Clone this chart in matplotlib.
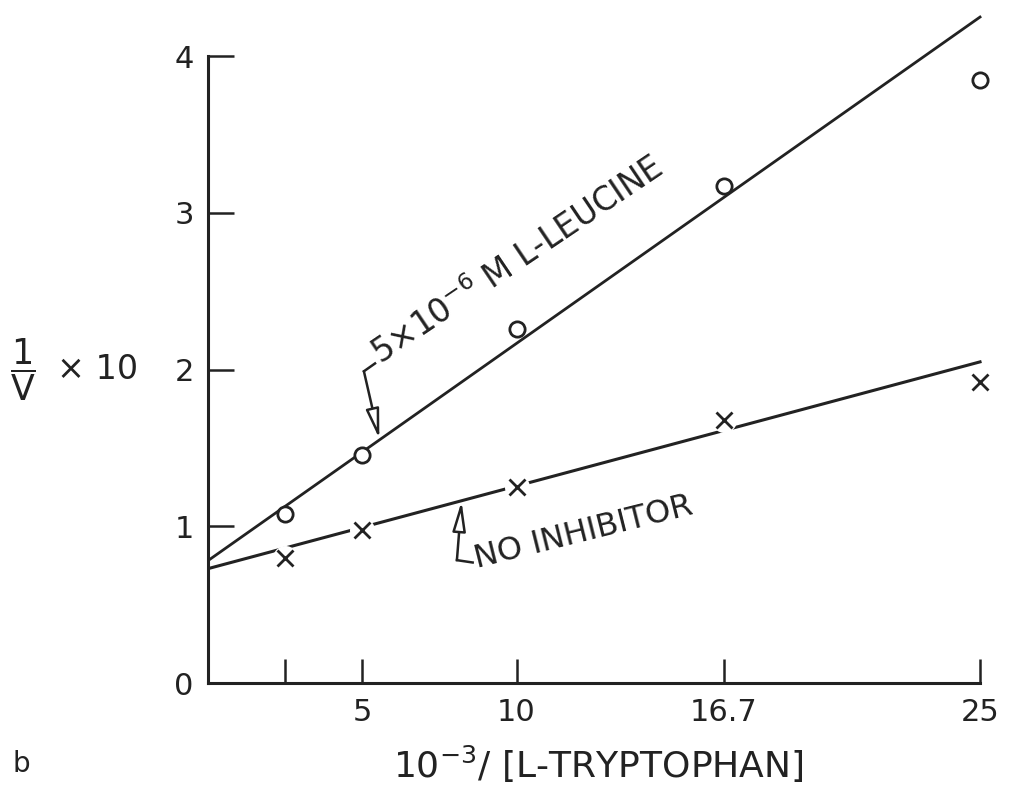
# Lineweaver-Burk plot: L-tryptophan with and without L-leucine inhibitor
import matplotlib.pyplot as plt

plt.rcParams['font.family'] = ['DejaVu Sans']
plt.rcParams['mathtext.fontset'] = 'dejavusans'

# data
inv_s = [2.5, 5, 10, 16.7, 25]              # 10^-3 / [L-tryptophan]
leucine = [1.08, 1.455, 2.26, 3.17, 3.85]   # 1/v x 10, 5x10^-6 M L-leucine
no_inhib = [0.80, 0.98, 1.25, 1.68, 1.92]   # 1/v x 10, no inhibitor

# hand-drawn fitted lines (end points)
fit_x = [0, 25]
fit_leucine = [0.78, 4.25]
fit_none = [0.73, 2.05]

x_ticks = [2.5, 5, 10, 16.7, 25]
x_ticklabels = ['', '5', '10', '16.7', '25']
y_ticks = [0, 1, 2, 3, 4]

ink = '#222222'
arrow_style = '-|>,head_length=1.8,head_width=0.4'

fig = plt.figure(figsize=(10.1, 8), dpi=100)
ax = fig.add_axes([0.2055, 0.146, 0.774, 0.8425])

ax.plot(fit_x, fit_leucine, color=ink, lw=2.0, zorder=2)
ax.plot(fit_x, fit_none, color=ink, lw=2.2, zorder=2)

# open circles (white filled so the line stops at the rim)
ax.plot(inv_s, leucine, 'o', ms=11, mfc='white', mec=ink, mew=2.0, zorder=4)
# crosses with a white halo to break the line
ax.plot(inv_s[:4], no_inhib[:4], 'o', ms=18, mfc='white', mec='none', zorder=3)
ax.plot(inv_s, no_inhib, 'x', ms=12, mec=ink, mew=2.0, zorder=4)

# label and leader for the leucine line
ax.text(5.62, 2.03, '5×10$^{-6}$ M L-LEUCINE', rotation=34, rotation_mode='anchor',
        ha='left', va='baseline', fontsize=23.5, color=ink)
ax.plot([5.42, 5.06], [2.04, 1.99], color=ink, lw=1.8)
ax.annotate('', xy=(5.56, 1.56), xytext=(5.06, 1.99),
            arrowprops=dict(arrowstyle=arrow_style, fc='white', ec=ink, lw=1.8,
                            shrinkA=0, shrinkB=0))

# label and leader for the no-inhibitor line
ax.text(8.72, 0.735, 'NO INHIBITOR', rotation=14, rotation_mode='anchor',
        ha='left', va='baseline', fontsize=23, color=ink)
ax.plot([8.07, 8.58], [0.785, 0.77], color=ink, lw=1.8)
ax.annotate('', xy=(8.22, 1.16), xytext=(8.07, 0.785),
            arrowprops=dict(arrowstyle=arrow_style, fc='white', ec=ink, lw=1.8,
                            shrinkA=0, shrinkB=0))

# axes styling
ax.set_xlim(0, 25.3)
ax.set_ylim(0, 4.3)
for side in ['top', 'right']:
    ax.spines[side].set_visible(False)
ax.spines['left'].set_bounds(0, 4)
ax.spines['bottom'].set_bounds(0, 25)
for side in ['left', 'bottom']:
    ax.spines[side].set_linewidth(2.2)
    ax.spines[side].set_color(ink)

ax.set_xticks(x_ticks)
ax.set_xticklabels(x_ticklabels)
ax.set_yticks(y_ticks)
ax.tick_params(axis='x', direction='in', length=17, width=1.8, color=ink,
               labelsize=22, pad=11, labelcolor=ink)
ax.tick_params(axis='y', direction='in', length=19, width=1.8, color=ink,
               labelsize=22, pad=10, labelcolor=ink)

ax.set_xlabel('10$^{-3}$/ [L-TRYPTOPHAN]', fontsize=26, color=ink, labelpad=12)
fig.text(0.010, 0.538, r'$\dfrac{1}{\mathrm{V}}$', fontsize=25, color=ink, va='center')
fig.text(0.056, 0.538, '× 10', fontsize=24, color=ink, va='center')
fig.text(0.012, 0.035, 'b', fontsize=20, color=ink)

fig.savefig('out.png', dpi=100, facecolor='white')
